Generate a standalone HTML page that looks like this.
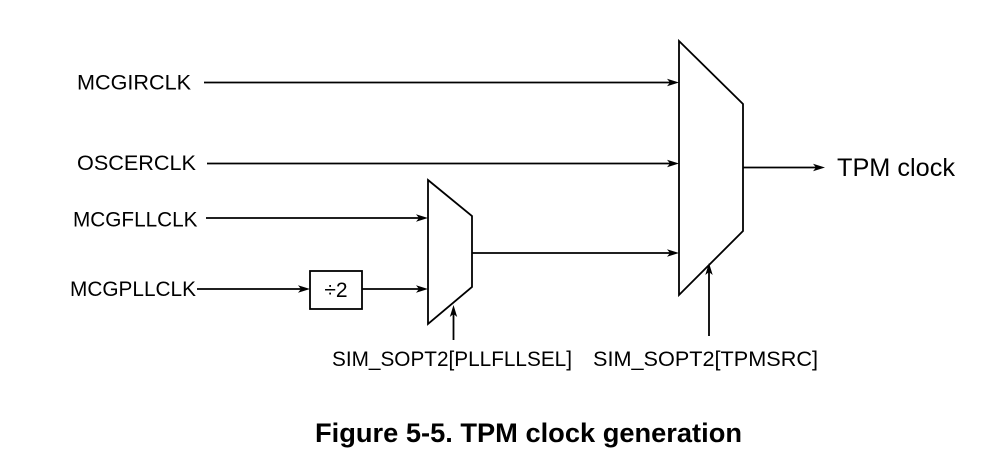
<!DOCTYPE html>
<html>
<head>
<meta charset="utf-8">
<style>
  html, body { margin:0; padding:0; background:#fff; }
  svg { display:block; }
  text { font-family: "Liberation Sans", Arial, sans-serif; fill:#000; }
</style>
</head>
<body>
<svg width="999" height="468" viewBox="0 0 999 468" xmlns="http://www.w3.org/2000/svg">
  <rect width="999" height="468" fill="#fff"/>
  <g stroke="#000" stroke-width="1.8" fill="none">
    <!-- big mux -->
    <polygon points="679,41 743,104 743,231 679,295"/>
    <!-- small mux -->
    <polygon points="428,180 472,216 472,287 428,324"/>
    <!-- divide box -->
    <rect x="310" y="271" width="52" height="38"/>
    <!-- lines -->
    <line x1="204" y1="82.5" x2="672" y2="82.5"/>
    <line x1="207" y1="163.5" x2="672" y2="163.5"/>
    <line x1="206" y1="218" x2="421" y2="218"/>
    <line x1="197" y1="289" x2="303" y2="289"/>
    <line x1="362" y1="289" x2="421" y2="289"/>
    <line x1="472" y1="253" x2="672" y2="253"/>
    <line x1="743" y1="167.5" x2="818" y2="167.5"/>
    <line x1="453.5" y1="340" x2="453.5" y2="312"/>
    <line x1="709" y1="336" x2="709" y2="270"/>
  </g>
  <g fill="#000" stroke="none">
    <!-- right-pointing arrowheads -->
    <polygon points="679,82.5 667,78.8 670,82.5 667,86.2"/>
    <polygon points="679,163.5 667,159.8 670,163.5 667,167.2"/>
    <polygon points="428,218 416,214.3 419,218 416,221.7"/>
    <polygon points="310,289 298,285.3 301,289 298,292.7"/>
    <polygon points="428,289 416,285.3 419,289 416,292.7"/>
    <polygon points="679,253 667,249.3 670,253 667,256.7"/>
    <polygon points="825,167.5 813,163.8 816,167.5 813,171.2"/>
    <!-- up-pointing arrowheads -->
    <polygon points="453.5,305 449.8,317 453.5,314 457.2,317"/>
    <polygon points="709,263 705.3,275 709,272 712.7,275"/>
  </g>
  <g font-size="21.5">
    <text x="77" y="89.5" textLength="114" lengthAdjust="spacingAndGlyphs">MCGIRCLK</text>
    <text x="77" y="170" textLength="119" lengthAdjust="spacingAndGlyphs">OSCERCLK</text>
    <text x="73" y="226.5" textLength="124.5" lengthAdjust="spacingAndGlyphs">MCGFLLCLK</text>
    <text x="70" y="296" textLength="126" lengthAdjust="spacingAndGlyphs">MCGPLLCLK</text>
  </g>
  <text x="336" y="297" font-size="21" text-anchor="middle">÷2</text>
  <g font-size="21">
    <text x="332" y="366" textLength="240" lengthAdjust="spacingAndGlyphs">SIM_SOPT2[PLLFLLSEL]</text>
    <text x="593" y="366" textLength="225" lengthAdjust="spacingAndGlyphs">SIM_SOPT2[TPMSRC]</text>
  </g>
  <text x="837" y="176" font-size="25" textLength="118" lengthAdjust="spacingAndGlyphs">TPM clock</text>
  <text x="315" y="442" font-size="27" font-weight="bold" textLength="427" lengthAdjust="spacingAndGlyphs">Figure 5-5. TPM clock generation</text>
</svg>
</body>
</html>
